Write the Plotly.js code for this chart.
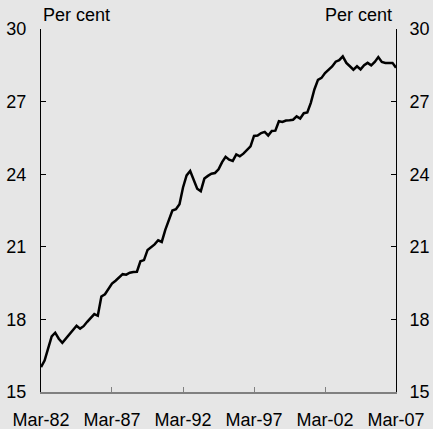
<!DOCTYPE html>
<html>
<head>
<meta charset="utf-8">
<script src="https://cdn.plot.ly/plotly-3.0.1.min.js"></script>
<style>html,body{margin:0;padding:0;background:#e6e6e6;}#chart{width:433px;height:429px;}</style>
</head>
<body>
<div id="chart"></div>
<script>
// Quarterly observations, Mar-82 to Mar-07 (per cent)
const startYear = 1982;
const values = [
  16.03, 16.3, 16.8, 17.3, 17.45, 17.2, 17.03, 17.2, 17.38, 17.56,
  17.74, 17.62, 17.72, 17.9, 18.05, 18.22, 18.15, 18.95, 19.04, 19.25,
  19.48, 19.6, 19.75, 19.87, 19.85, 19.93, 19.96, 19.97, 20.4, 20.45,
  20.87, 20.97, 21.1, 21.27, 21.2, 21.7, 22.1, 22.5, 22.55, 22.76,
  23.45, 23.95, 24.13, 23.8, 23.4, 23.3, 23.82, 23.93, 24.02, 24.05,
  24.2, 24.5, 24.72, 24.6, 24.55, 24.82, 24.74, 24.85, 25.0, 25.15,
  25.58, 25.6, 25.7, 25.75, 25.6, 25.79, 25.8, 26.19, 26.16, 26.22,
  26.23, 26.25, 26.39, 26.3, 26.52, 26.55, 26.95, 27.5, 27.9, 27.98,
  28.18, 28.3, 28.45, 28.65, 28.71, 28.87, 28.6, 28.46, 28.32, 28.46,
  28.33, 28.5, 28.6, 28.5, 28.64, 28.84, 28.64, 28.6, 28.6, 28.6,
  28.4
];
const monthNums = ['03', '06', '09', '12'];
const dates = values.map((v, i) => {
  const y = startYear + Math.floor(i / 4);
  return y + '-' + monthNums[i % 4] + '-01';
});
const xTickVals = ['1982-03-01', '1987-03-01', '1992-03-01', '1997-03-01', '2002-03-01', '2007-03-01'];
const xTickText = ['Mar-82', 'Mar-87', 'Mar-92', 'Mar-97', 'Mar-02', 'Mar-07'];
const yTickVals = [15, 18, 21, 24, 27, 30];
const unitLabel = 'Per cent';

const font = {family: 'Liberation Sans, Arial, sans-serif', size: 18, color: '#000'};

const traces = [
  {x: dates, y: values, type: 'scatter', mode: 'lines',
   line: {color: '#000', width: 2.5}, hoverinfo: 'skip', yaxis: 'y'},
  {x: dates, y: values, type: 'scatter', mode: 'lines',
   line: {color: 'rgba(0,0,0,0)', width: 0}, hoverinfo: 'skip', yaxis: 'y2', showlegend: false}
];

const yCommon = {
  range: [15, 30], tickvals: yTickVals, ticks: 'inside', ticklen: 5,
  tickcolor: '#000', tickwidth: 1, showline: true, linecolor: '#000', linewidth: 1,
  showgrid: false, zeroline: false, tickfont: font, fixedrange: true
};

const layout = {
  width: 433, height: 429,
  margin: {l: 41, r: 37, t: 29, b: 37},
  paper_bgcolor: '#e6e6e6', plot_bgcolor: '#e6e6e6',
  showlegend: false,
  font: font,
  xaxis: {
    type: 'date', range: ['1982-03-01', '2007-03-01'],
    tickvals: xTickVals, ticktext: xTickText,
    ticks: 'inside', ticklen: 5, tickcolor: '#808080', tickwidth: 1,
    showline: true, linecolor: '#808080', linewidth: 2,
    showgrid: false, zeroline: false, tickfont: font, ticklabelstandoff: 10
  },
  yaxis: Object.assign({}, yCommon, {side: 'left', ticklabelstandoff: 10}),
  yaxis2: Object.assign({}, yCommon, {side: 'right', overlaying: 'y', ticklabelstandoff: 9}),
  annotations: [
    {text: unitLabel, xref: 'paper', yref: 'paper', x: 0, y: 1, xanchor: 'left', yanchor: 'bottom',
     showarrow: false, font: font, xshift: 0, yshift: 2},
    {text: unitLabel, xref: 'paper', yref: 'paper', x: 1, y: 1, xanchor: 'right', yanchor: 'bottom',
     showarrow: false, font: font, xshift: -2, yshift: 2}
  ]
};

Plotly.newPlot('chart', traces, layout, {staticPlot: true, displayModeBar: false});
</script>
</body>
</html>
